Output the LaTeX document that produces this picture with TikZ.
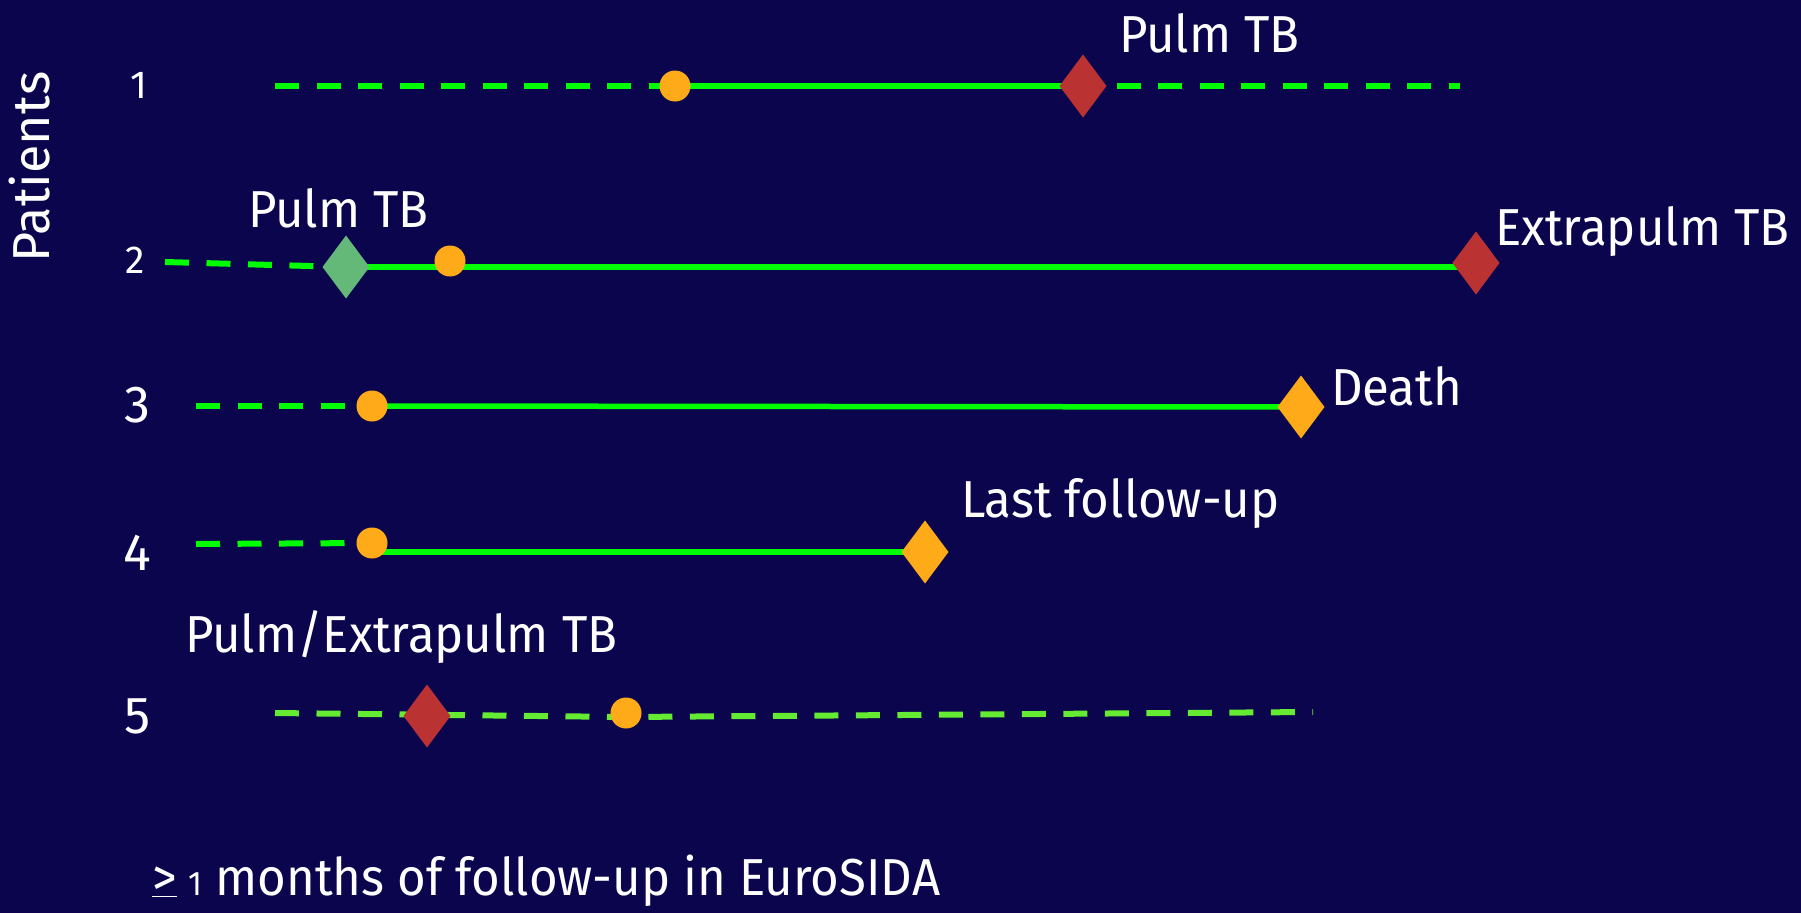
\documentclass[tikz,border=0pt]{standalone}
\usepackage{fontspec}
\setmainfont{Fira Sans}
\newfontfamily\narrowfont[FakeStretch=0.945]{Fira Sans}
\usetikzlibrary{shapes.geometric}

\definecolor{bgnavy}{RGB}{11,5,78}
\definecolor{linegreen}{RGB}{0,255,0}
\definecolor{limegreen}{RGB}{100,235,50}
\definecolor{amber}{RGB}{255,170,25}
\definecolor{tbred}{RGB}{187,50,50}
\definecolor{sagegreen}{RGB}{100,185,120}

\pgfdeclarelayer{lines}
\pgfsetlayers{lines,main}

\tikzset{
  txt/.style={text=white, inner sep=0pt, outer sep=0pt, font=\fontsize{52}{60}\selectfont},
  num/.style={txt, anchor=base},
  smallnum/.style={num, font=\fontsize{39}{46}\selectfont},
  lbl/.style={txt, anchor=base west, font=\fontsize{52}{60}\narrowfont},
  visit/.style={circle, fill=amber, minimum size=31pt, inner sep=0pt, outer sep=0pt},
  event/.style={diamond, minimum width=47pt, minimum height=63pt, inner sep=0pt, outer sep=0pt},
  fu/.style={draw=linegreen, line width=5.5pt},
  dashfu/.style={fu, line width=6pt, dash pattern=on 24pt off 17.5pt},
}

\begin{document}
\begin{tikzpicture}[x=1pt,y=-1pt]
\useasboundingbox (0,0) rectangle (1801,913);
\begin{pgfonlayer}{lines}
  \fill[bgnavy] (0,0) rectangle (1801,913);
\end{pgfonlayer}

% axis title and patient numbers
\node[txt, rotate=90, anchor=base] (ylab) at (49,167) {Patients};
\node[smallnum] (n1) at (139,98) {1};
\node[smallnum] (n2) at (135,273) {2};
\node[num] (n3) at (137,422) {3};
\node[num] (n4) at (137,570) {4};
\node[num] (n5) at (138,733) {5};

% patient 1
\coordinate (s1) at (275,86);
\coordinate (e1) at (1460,86);
\node[visit] (v1) at (675,86) {};
\node[event, fill=tbred] (d1) at (1083,86) {};
\node[lbl] (t1) at (1119,52) {Pulm TB};

% patient 2
\coordinate (s2) at (165,262);
\node[event, fill=sagegreen] (p2) at (346,267) {};
\node[visit] (v2) at (450,261) {};
\node[event, fill=tbred] (d2) at (1476,263) {};
\node[lbl] (t2a) at (248,227) {Pulm TB};
\node[lbl] (t2b) at (1495,245) {Extrapulm TB};

% patient 3
\coordinate (s3) at (196,406);
\node[visit] (v3) at (372,406) {};
\node[event, fill=amber] (d3) at (1301,407) {};
\node[lbl] (t3) at (1331,405) {Death};

% patient 4
\coordinate (s4) at (196,544);
\node[visit] (v4) at (372,543) {};
\node[event, fill=amber] (d4) at (925,552) {};
\node[lbl] (t4) at (961,517) {Last follow-up};

% patient 5
\coordinate (s5) at (275,713);
\coordinate (m5) at (626,717);
\coordinate (e5) at (1313,712);
\node[event, fill=tbred] (d5) at (427,716) {};
\node[visit] (v5) at (626,713) {};
\node[lbl] (t5) at (185,652) {Pulm/Extrapulm TB};

% footnote
\node[lbl] (foot) at (152,895)
  {\underline{\mbox{>}}\hspace{12pt}{\fontsize{34}{40}\selectfont 1} months of follow-up in EuroSIDA};

% follow-up lines, drawn beneath the markers
\begin{pgfonlayer}{lines}
  \draw[dashfu] (s1) -- (v1.center);
  \draw[fu] (v1.center) -- (d1.center);
  \draw[dashfu] (d1.east) ++(10,0) -- (e1);

  \draw[dashfu] (s2) -- (p2.center);
  \draw[fu] (p2.center) -- (p2.center -| d2.center);

  \draw[dashfu] (s3) -- (v3.center);
  \draw[fu] (v3.center) -- (d3.center);

  \draw[dashfu] (s4) -- (v4.center);
  \draw[fu] (v4.center |- d4.center) -- (d4.center);

  \draw[dashfu, draw=limegreen] (s5) -- (m5) -- (e5);
\end{pgfonlayer}
\end{tikzpicture}
\end{document}
